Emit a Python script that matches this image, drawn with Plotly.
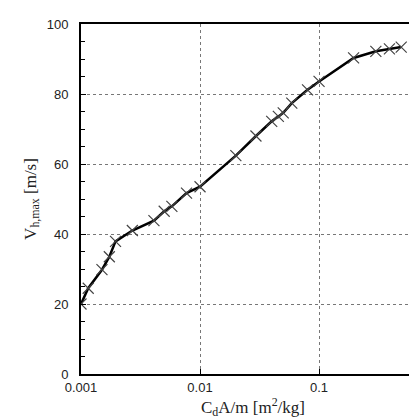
import plotly.graph_objects as go

# ballistic coefficient C_dA/m [m^2/kg] and max horizontal velocity [m/s]
cda_m = [0.001, 0.00115, 0.0015, 0.00173, 0.00195, 0.0027, 0.0041, 0.005,
         0.0058, 0.0077, 0.01, 0.02, 0.0295, 0.04, 0.0455, 0.05, 0.059,
         0.08, 0.1, 0.195, 0.3, 0.39, 0.49]
v_hmax = [20, 24.5, 29.8, 33.5, 37.9, 41, 43.8, 46.5, 47.9, 51.7, 53.5,
          62.4, 68, 72.2, 73.6, 74.6, 77.4, 81.2, 83.6, 90.3, 92.2, 92.9, 93.4]

x_ticks = [0.001, 0.01, 0.1, 1]
x_ticktext = ["0.001", "0.01", "0.1", "1"]
y_ticks = [0, 20, 40, 60, 80, 100]

tick_font = dict(family="Liberation Sans, Arial", size=13, color="#222")
title_font = dict(family="Liberation Serif, Times New Roman, serif", size=17, color="#222")

fig = go.Figure()
fig.add_trace(go.Scatter(
    x=cda_m, y=v_hmax,
    mode="lines+markers",
    line=dict(color="black", width=2.5),
    marker=dict(symbol="x-thin", size=11, line=dict(color="#444", width=1.2)),
    showlegend=False,
))

fig.update_xaxes(
    type="log", range=[-3, -0.11],
    tickvals=x_ticks, ticktext=x_ticktext,
    showline=True, linecolor="black", linewidth=2, mirror=True,
    ticks="inside", ticklen=5, tickcolor="black",
    showgrid=True, gridcolor="#777", gridwidth=1, griddash="3px,3px",
    zeroline=False, tickfont=tick_font, ticklabelstandoff=0,
    title=dict(text="C<sub>d</sub>A/m [m<sup>2</sup>/kg]", font=title_font, standoff=4),
)
fig.update_yaxes(
    range=[0, 100],
    tickvals=y_ticks,
    showline=True, linecolor="black", linewidth=2,
    ticks="inside", ticklen=5, tickcolor="black",
    minor=dict(dtick=5, ticks="inside", ticklen=4, tickcolor="black", showgrid=False),
    showgrid=True, gridcolor="#777", gridwidth=1, griddash="3px,3px",
    zeroline=False, tickfont=tick_font, ticklabelstandoff=8,
    title=dict(text="V<sub>h,max</sub> [m/s]", font=title_font, standoff=6),
)

fig.update_layout(
    width=417, height=419,
    margin=dict(l=73, r=0, t=16, b=53),
    plot_bgcolor="white", paper_bgcolor="white",
)

fig.write_html("out.html")
